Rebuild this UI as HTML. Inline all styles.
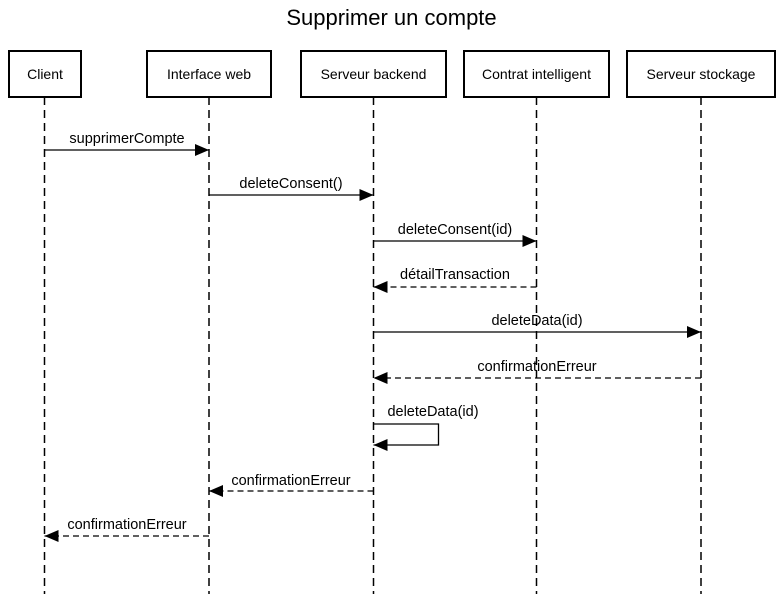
<!DOCTYPE html>
<html><head><meta charset="utf-8"><style>
html,body{margin:0;padding:0;background:#fff;}
svg{display:block;font-family:"Liberation Sans",Arial,sans-serif;}
</style></head><body>
<svg width="783" height="594" viewBox="0 0 783 594" xmlns="http://www.w3.org/2000/svg">
<defs>
<marker id="a" markerWidth="14" markerHeight="12" refX="14" refY="6" orient="auto" markerUnits="userSpaceOnUse"><path d="M0,0 L14,6 L0,12 z" fill="#000"/></marker>
</defs>
<text x="391.5" y="25" font-size="22" text-anchor="middle">Supprimer un compte</text>
<g stroke="#000" stroke-width="1.5" stroke-dasharray="8,5" fill="none">
<line x1="44.5" y1="97" x2="44.5" y2="594"/>
<line x1="209" y1="97" x2="209" y2="594"/>
<line x1="373.5" y1="97" x2="373.5" y2="594"/>
<line x1="536.5" y1="97" x2="536.5" y2="594"/>
<line x1="701" y1="97" x2="701" y2="594"/>
</g>
<g stroke="#000" stroke-width="2" fill="#fff">
<rect x="9" y="51" width="72" height="46"/>
<rect x="147" y="51" width="124" height="46"/>
<rect x="301" y="51" width="145" height="46"/>
<rect x="464" y="51" width="145" height="46"/>
<rect x="627" y="51" width="148" height="46"/>
</g>
<g font-size="14" text-anchor="middle">
<text x="45" y="79">Client</text>
<text x="209" y="79">Interface web</text>
<text x="373.5" y="79">Serveur backend</text>
<text x="536.5" y="79">Contrat intelligent</text>
<text x="701" y="79">Serveur stockage</text>
</g>
<g stroke="#000" stroke-width="1.3" fill="none">
<line x1="44.5" y1="150" x2="209" y2="150" marker-end="url(#a)"/>
<line x1="209" y1="195" x2="373.5" y2="195" marker-end="url(#a)"/>
<line x1="373.5" y1="241" x2="536.5" y2="241" marker-end="url(#a)"/>
<line x1="536.5" y1="287" x2="373.5" y2="287" stroke-dasharray="6,4" marker-end="url(#a)"/>
<line x1="373.5" y1="332" x2="701" y2="332" marker-end="url(#a)"/>
<line x1="701" y1="378" x2="373.5" y2="378" stroke-dasharray="6,4" marker-end="url(#a)"/>
<polyline points="373.5,424 438.5,424 438.5,445 373.5,445" marker-end="url(#a)"/>
<line x1="373.5" y1="491" x2="209" y2="491" stroke-dasharray="6,4" marker-end="url(#a)"/>
<line x1="209" y1="536" x2="44.5" y2="536" stroke-dasharray="6,4" marker-end="url(#a)"/>
</g>
<g font-size="14.5" text-anchor="middle">
<text x="127" y="143">supprimerCompte</text>
<text x="291" y="188">deleteConsent()</text>
<text x="455" y="234">deleteConsent(id)</text>
<text x="455" y="279">détailTransaction</text>
<text x="537" y="325">deleteData(id)</text>
<text x="537" y="371">confirmationErreur</text>
<text x="433" y="416">deleteData(id)</text>
<text x="291" y="485">confirmationErreur</text>
<text x="127" y="529">confirmationErreur</text>
</g>
</svg>
</body></html>
